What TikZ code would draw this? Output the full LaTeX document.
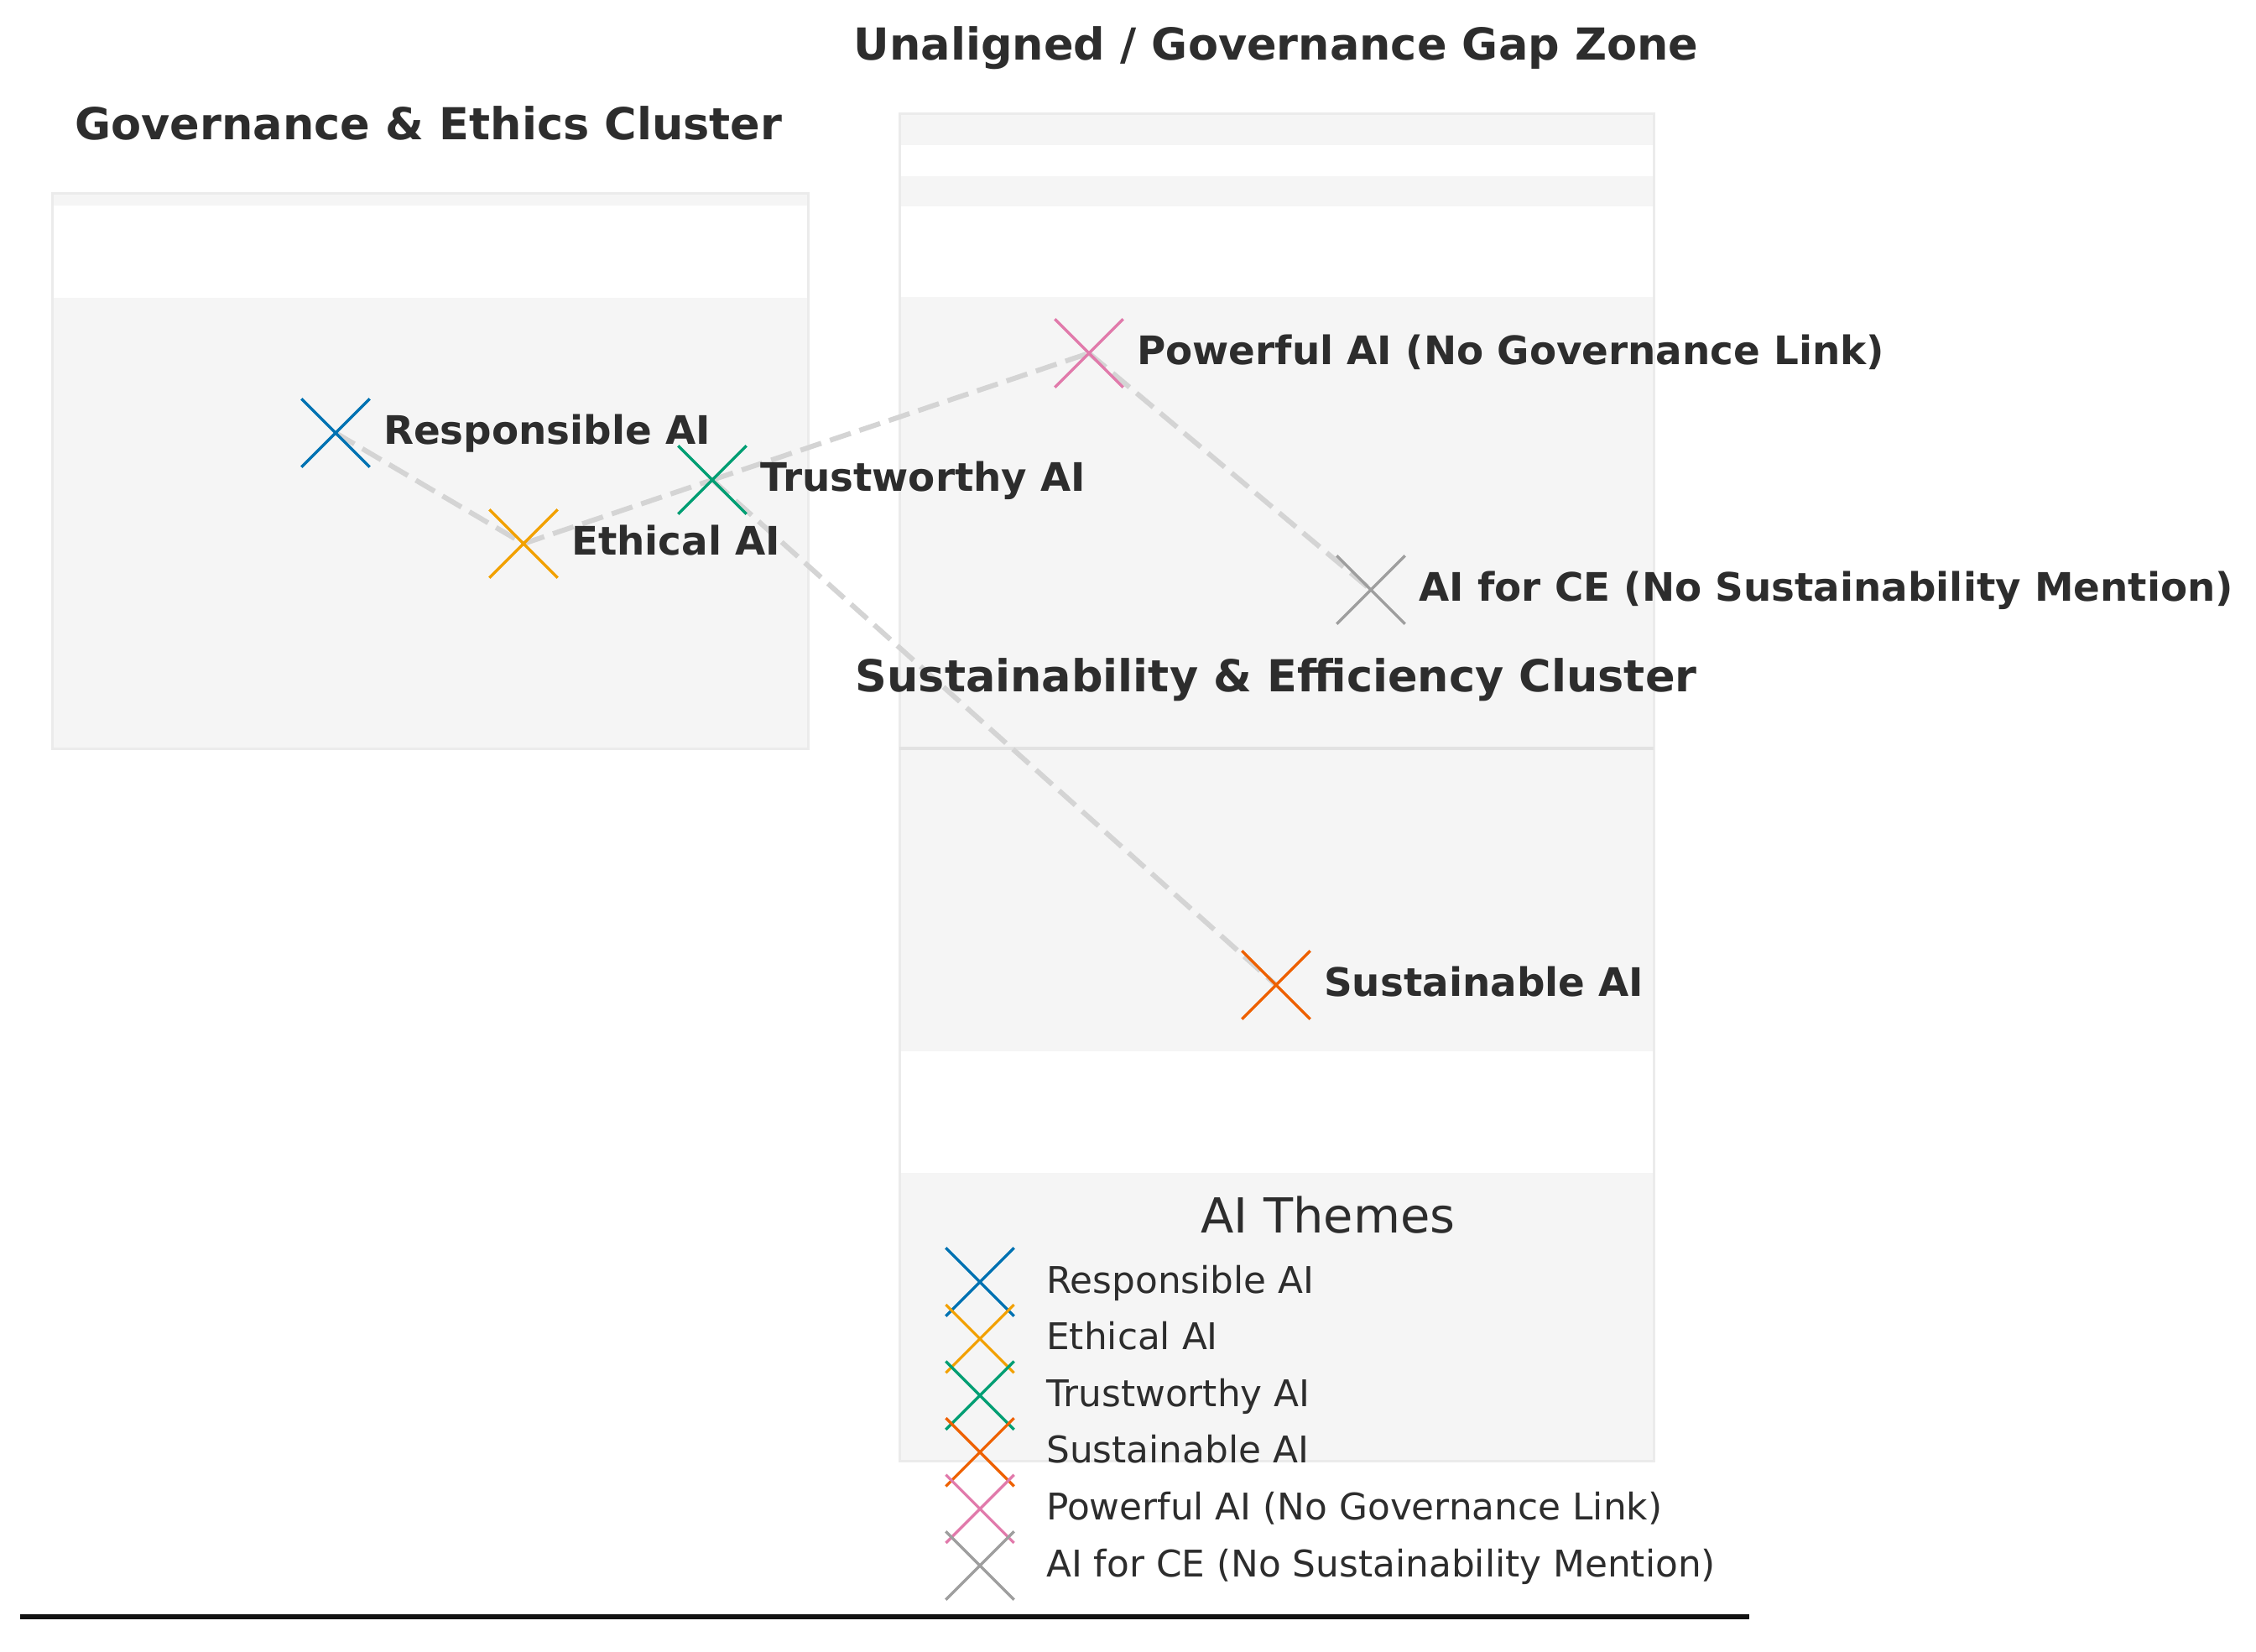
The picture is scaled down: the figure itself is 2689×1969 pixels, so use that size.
\documentclass[tikz,border=0pt]{standalone}
\usepackage{fontspec}
\setmainfont{DejaVu Sans}
\usetikzlibrary{shapes.misc}
\definecolor{txt}{HTML}{2D2D2D}
\definecolor{panel}{HTML}{F5F5F5}
\definecolor{edgec}{HTML}{EBEBEB}
\definecolor{sepc}{HTML}{E2E2E2}
\definecolor{linkc}{HTML}{D4D4D4}
\definecolor{cResp}{HTML}{0072B2}
\definecolor{cEth}{HTML}{F2A100}
\definecolor{cTrust}{HTML}{009E73}
\definecolor{cSust}{HTML}{EE6100}
\definecolor{cPow}{HTML}{E17AAB}
\definecolor{cCE}{HTML}{9E9E9E}
\begin{document}
\begin{tikzpicture}[x=1pt,y=-1pt,
  mk/.style={cross out, draw=#1, line width=3.3pt, minimum size=78pt, inner sep=0pt},
  lbl/.style={anchor=base west, inner sep=0pt, text=txt, font=\fontsize{46.8}{50}\selectfont\bfseries},
  ttl/.style={anchor=base, inner sep=0pt, text=txt, font=\fontsize{52.5}{58}\selectfont\bfseries},
  legttl/.style={anchor=base, inner sep=0pt, text=txt, font=\fontsize{57.5}{62}\selectfont},
  legtxt/.style={anchor=base west, inner sep=0pt, text=txt, font=\fontsize{43.8}{48}\selectfont},
  linkline/.style={draw=linkc, line width=6pt, dash pattern=on 26pt off 11pt},
  band/.style={fill=panel, draw=none},
  frame/.style={draw=edgec, line width=3pt},
]
\useasboundingbox (0,0) rectangle (2689,1969);
\fill[white] (0,0) rectangle (2689,1969);

% left panel
\fill[band] (62,231) rectangle (963,245);
\fill[band] (62,355) rectangle (963,892);
\draw[frame] (62,231) rectangle (963,892);

% right column
\fill[band] (1072,136) rectangle (1971,173);
\fill[band] (1072,210) rectangle (1971,246);
\fill[band] (1072,354) rectangle (1971,1253);
\fill[band] (1072,1398) rectangle (1971,1741);
\draw[frame] (1072,136) rectangle (1971,1741);
\draw[draw=sepc, line width=4pt] (1072,892) -- (1971,892);

% marker positions
\coordinate (resp) at (400,516);
\coordinate (eth) at (624,648);
\coordinate (trust) at (849,572);
\coordinate (pow) at (1298,421);
\coordinate (ce) at (1634,703);
\coordinate (sust) at (1521,1174);

% connectors
\draw[linkline] (resp) -- (eth);
\draw[linkline] (eth) -- (trust);
\draw[linkline] (trust) -- (pow);
\draw[linkline] (pow) -- (ce);
\draw[linkline] (trust) -- (sust);

% markers
\node[mk=cResp] (mresp) at (resp) {};
\node[mk=cEth] (meth) at (eth) {};
\node[mk=cTrust] (mtrust) at (trust) {};
\node[mk=cPow] (mpow) at (pow) {};
\node[mk=cCE] (mce) at (ce) {};
\node[mk=cSust] (msust) at (sust) {};

% labels
\node[lbl] (lresp) at (457,529.5) {Responsible AI};
\node[lbl] (leth) at (681,661.5) {Ethical AI};
\node[lbl] (ltrust) at (906,585.5) {Trustworthy AI};
\node[lbl] (lpow) at (1355,434.5) {Powerful AI (No Governance Link)};
\node[lbl] (lce) at (1691,716.5) {AI for CE (No Sustainability Mention)};
\node[lbl] (lsust) at (1578,1187.5) {Sustainable AI};

% titles
\node[ttl] (tgov) at (511,167) {Governance \& Ethics Cluster};
\node[ttl] (tgap) at (1521,72) {Unaligned / Governance Gap Zone};
\node[ttl] (tsust) at (1521,824) {Sustainability \& Efficiency Cluster};

% legend
\node[legttl] (legt) at (1583,1469) {AI Themes};
\node[mk=cResp] (k1) at (1168,1528) {};
\node[legtxt] (g1) at (1247,1541) {Responsible AI};
\node[mk=cEth] (k2) at (1168,1595.6) {};
\node[legtxt] (g2) at (1247,1608.6) {Ethical AI};
\node[mk=cTrust] (k3) at (1168,1663.2) {};
\node[legtxt] (g3) at (1247,1676.2) {Trustworthy AI};
\node[mk=cSust] (k4) at (1168,1730.8) {};
\node[legtxt] (g4) at (1247,1743.8) {Sustainable AI};
\node[mk=cPow] (k5) at (1168,1798.4) {};
\node[legtxt] (g5) at (1247,1811.4) {Powerful AI (No Governance Link)};
\node[mk=cCE] (k6) at (1168,1866) {};
\node[legtxt] (g6) at (1247,1879) {AI for CE (No Sustainability Mention)};

% base line
\coordinate (bl) at (24,1927);
\coordinate (br) at (2085,1927);
\draw[draw=black!93, line width=6pt] (bl) -- (br);
\end{tikzpicture}
\end{document}
